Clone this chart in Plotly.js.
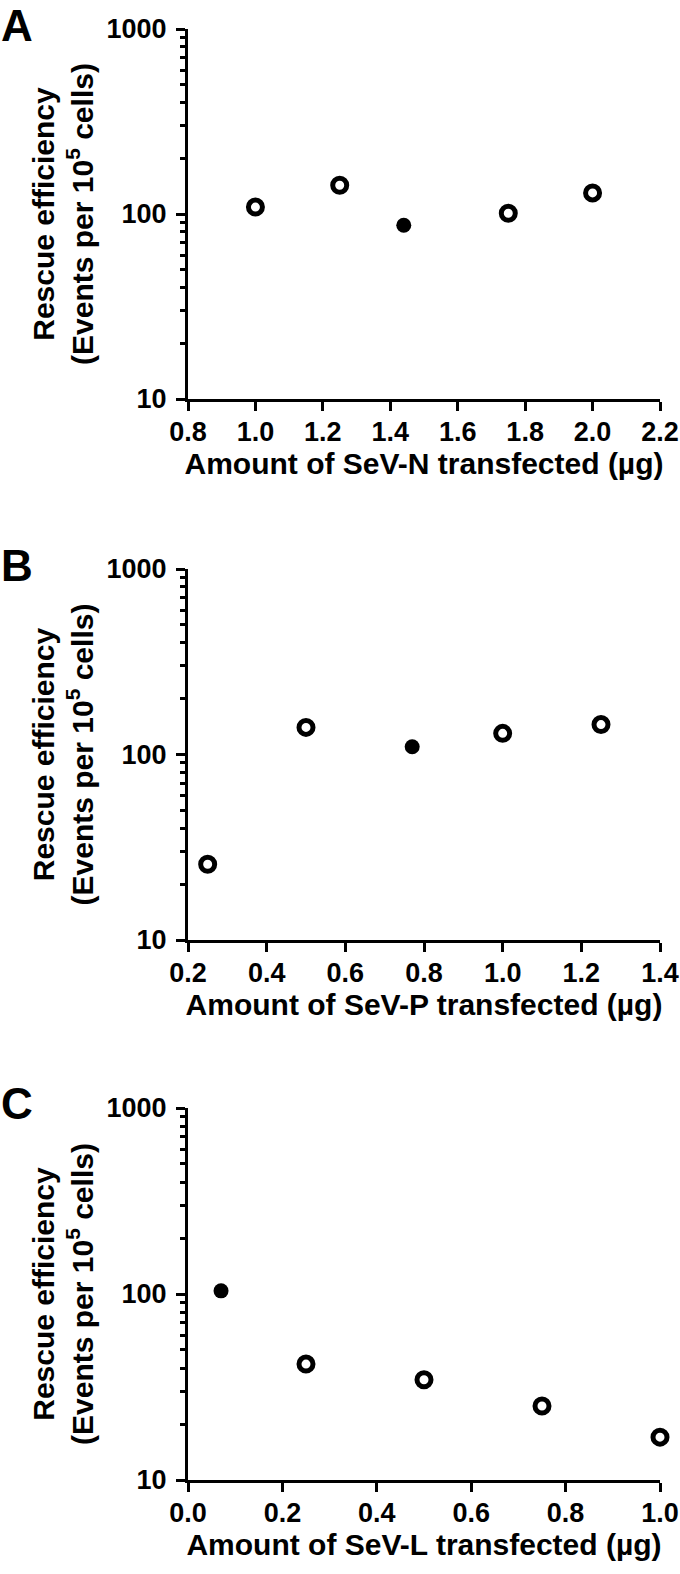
<!DOCTYPE html>
<html>
<head>
<meta charset="utf-8">
<script src="https://cdn.plot.ly/plotly-3.0.1.min.js"></script>
<style>html,body{margin:0;padding:0;background:#fff;}#chart{width:680px;height:1574px;}</style>
</head>
<body>
<div id="chart"></div>
<script>
// ---- data ----
const panelLetters = ['A', 'B', 'C'];
const xTitles = [
  'Amount of SeV-N transfected (\u00b5g)',
  'Amount of SeV-P transfected (\u00b5g)',
  'Amount of SeV-L transfected (\u00b5g)'
];
const yTitle = 'Rescue efficiency<br>(Events per 10<sup>5</sup> cells)';
const xRanges = [[0.8, 2.2], [0.2, 1.4], [0.0, 1.0]];
const yTickVals = [10, 100, 1000];
const yTickText = ['10', '100', '1000'];
const yMinorVals = [20, 30, 40, 50, 60, 70, 80, 90, 200, 300, 400, 500, 600, 700, 800, 900];

// Panel A: SeV-N
const nOpenX = [1.0, 1.25, 1.75, 2.0];
const nOpenY = [109, 143, 101, 130];
const nFilledX = [1.44];
const nFilledY = [87];
// Panel B: SeV-P
const pOpenX = [0.25, 0.5, 1.0, 1.25];
const pOpenY = [25.6, 140, 130, 145];
const pFilledX = [0.77];
const pFilledY = [110];
// Panel C: SeV-L
const lOpenX = [0.25, 0.5, 0.75, 1.0];
const lOpenY = [42, 34.6, 25, 17];
const lFilledX = [0.07];
const lFilledY = [104];

const openX = [nOpenX, pOpenX, lOpenX];
const openY = [nOpenY, pOpenY, lOpenY];
const filledX = [nFilledX, pFilledX, lFilledX];
const filledY = [nFilledY, pFilledY, lFilledY];

// ---- layout geometry (pixels) ----
const W = 680, H = 1574;
const plotLeft = 188, plotRight = 660;
const plotTops = [29, 569, 1108];
const plotBottoms = [399, 940, 1480];
const letterTops = [0, 540, 1078];

const FONT = 'Liberation Sans, Arial, Helvetica, sans-serif';
const traces = [];
const layout = {
  width: W, height: H,
  margin: {l: 0, r: 0, t: 0, b: 0},
  paper_bgcolor: '#fff', plot_bgcolor: '#fff',
  showlegend: false,
  font: {family: FONT, color: '#000', weight: 700},
  annotations: []
};

for (let i = 0; i < 3; i++) {
  const sfx = i === 0 ? '' : String(i + 1);
  const xa = 'x' + sfx, ya = 'y' + sfx;
  traces.push({
    type: 'scatter', mode: 'markers', x: openX[i], y: openY[i],
    xaxis: xa, yaxis: ya, cliponaxis: false, hoverinfo: 'skip',
    marker: {symbol: 'circle-open', size: 14, color: '#000', line: {width: 5, color: '#000'}}
  });
  traces.push({
    type: 'scatter', mode: 'markers', x: filledX[i], y: filledY[i],
    xaxis: xa, yaxis: ya, cliponaxis: false, hoverinfo: 'skip',
    marker: {symbol: 'circle', size: 15, color: '#000', line: {width: 0}}
  });
  layout['xaxis' + sfx] = {
    domain: [plotLeft / W, plotRight / W],
    anchor: ya,
    range: xRanges[i],
    dtick: 0.2, tick0: 0, tickformat: '.1f',
    showline: true, linewidth: 3, linecolor: '#000',
    ticks: 'outside', ticklen: 9, tickwidth: 3, tickcolor: '#000',
    ticklabelstandoff: -2,
    showgrid: false, zeroline: false,
    tickfont: {family: FONT, size: 27, color: '#000', weight: 700},
    title: {text: xTitles[i], standoff: 7, font: {family: FONT, size: 30, color: '#000', weight: 700}},
    fixedrange: true
  };
  layout['yaxis' + sfx] = {
    domain: [1 - plotBottoms[i] / H, 1 - plotTops[i] / H],
    anchor: xa,
    type: 'log', range: [1, 3],
    tickvals: yTickVals, ticktext: yTickText,
    showline: true, linewidth: 3, linecolor: '#000',
    ticks: 'outside', ticklen: 9, tickwidth: 3, tickcolor: '#000',
    ticklabelstandoff: 4,
    minor: {tickvals: yMinorVals, ticks: 'outside', ticklen: 5, tickwidth: 3, tickcolor: '#000', showgrid: false},
    showgrid: false, zeroline: false,
    tickfont: {family: FONT, size: 27, color: '#000', weight: 700},
    title: {text: yTitle, standoff: 5, font: {family: FONT, size: 30, color: '#000', weight: 700}},
    fixedrange: true
  };
  layout.annotations.push({
    text: panelLetters[i], xref: 'paper', yref: 'paper',
    x: 0, y: 1 - letterTops[i] / H, xanchor: 'left', yanchor: 'top',
    borderpad: 0,
    showarrow: false, font: {family: FONT, size: 44, color: '#000', weight: 700}
  });
}

Plotly.newPlot('chart', traces, layout, {staticPlot: true, displayModeBar: false});
</script>
</body>
</html>
